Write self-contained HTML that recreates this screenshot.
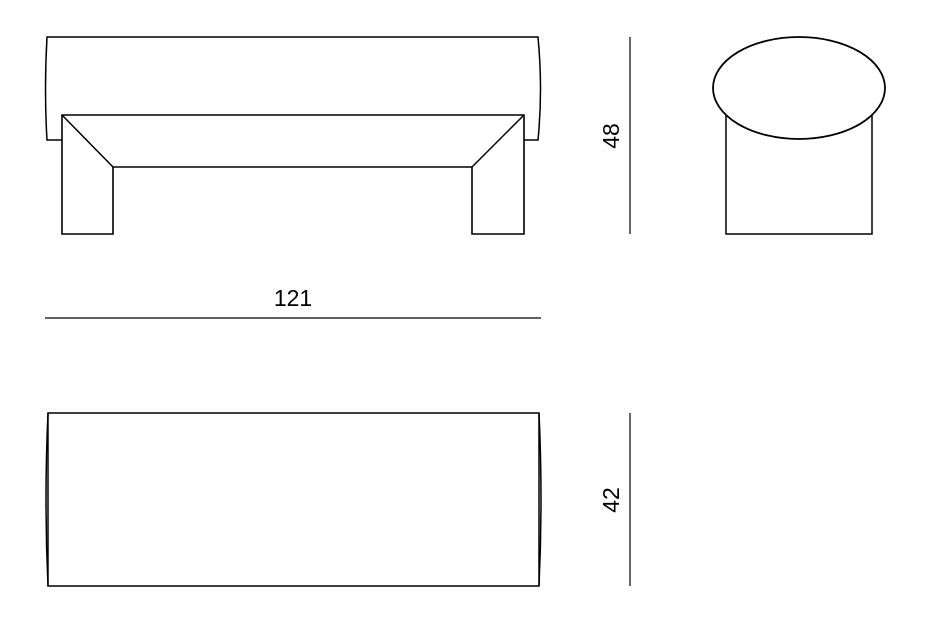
<!DOCTYPE html>
<html><head><style>body{margin:0;background:#fff}svg{display:block}</style></head><body>
<svg width="930" height="624" viewBox="0 0 930 624" xmlns="http://www.w3.org/2000/svg" fill="none" stroke="#000" stroke-width="1.5">
<path d="M62,140 L47,140 Q44,90 47,37 L538,37 Q543,90 538,140 L524,140"/>
<path d="M62,234 L62,115 L524,115 L524,234 L472,234 L472,167 L113,167 L113,234 Z" stroke-width="1.6"/>
<path d="M62,115 L113,167 M524,115 L472,167"/>
<line x1="630" y1="37" x2="630" y2="234" stroke-width="1.2"/>
<path d="M726,115 L726,234 L872,234 L872,115"/>
<ellipse cx="799" cy="88" rx="86" ry="51" fill="#fff" stroke-width="1.8"/>
<line x1="45" y1="318" x2="541" y2="318" stroke-width="1.2"/>
<rect x="48" y="413" width="491" height="173"/>
<path d="M48,413 Q44,500 48,586 M539,413 Q543,500 539,586"/>
<line x1="630" y1="413" x2="630" y2="586" stroke-width="1.2"/>
<g fill="#000" stroke="none" font-family="Liberation Sans, sans-serif" font-size="23" text-anchor="middle">
<text x="293" y="306">121</text>
<text transform="translate(619,136) rotate(-90)">48</text>
<text transform="translate(619,500) rotate(-90)">42</text>
</g>
</svg>
</body></html>
